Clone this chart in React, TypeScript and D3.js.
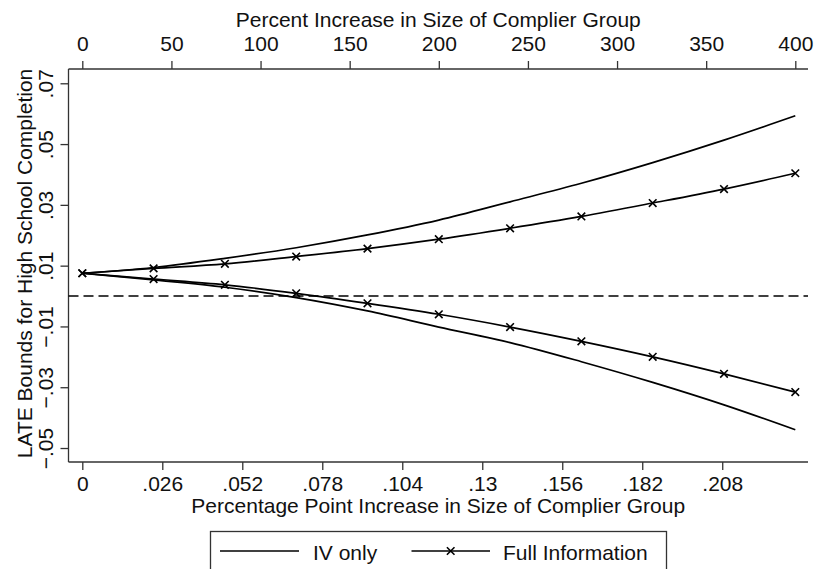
import React, { useEffect, useRef } from 'react';
import * as d3 from 'd3';

// percent increase in size of complier group (top axis)
const pctIncrease = [0, 40, 80, 120, 160, 200, 240, 280, 320, 360, 400];
// LATE bounds, IV only
const ivUpper = [0.0075, 0.0094, 0.0124, 0.0159, 0.0201, 0.025, 0.031, 0.0371, 0.0439, 0.0513, 0.0593];
const ivLower = [0.0075, 0.0053, 0.0029, -0.0005, -0.0049, -0.0102, -0.0153, -0.0216, -0.0284, -0.0358, -0.044];
// LATE bounds, full information
const fullUpper = [0.0075, 0.0091, 0.0106, 0.013, 0.0156, 0.0187, 0.0223, 0.0262, 0.0306, 0.0352, 0.0404];
const fullLower = [0.0075, 0.0056, 0.0037, 0.0009, -0.0024, -0.006, -0.0102, -0.0149, -0.02, -0.0256, -0.0316];

const topTicks = [0, 50, 100, 150, 200, 250, 300, 350, 400];
const bottomTicks = [0, 0.026, 0.052, 0.078, 0.104, 0.13, 0.156, 0.182, 0.208];
const bottomLabels = ['0', '.026', '.052', '.078', '.104', '.13', '.156', '.182', '.208'];
const leftTicks = [0.07, 0.05, 0.03, 0.01, -0.01, -0.03, -0.05];
const leftLabels = ['.07', '.05', '.03', '.01', '\u2212.01', '\u2212.03', '\u2212.05'];

const FONT = 'Liberation Sans, Arial, Helvetica, sans-serif';

const App = () => {
  const svgRef = useRef<SVGSVGElement>(null);

  useEffect(() => {
    const svg = d3.select(svgRef.current);
    svg.selectAll('*').remove();

    const left = 68.5, right = 808, top = 69, bottom = 462;
    const midX = (left + right) / 2;

    const xPct = d3.scaleLinear().domain([0, 400]).range([82.3, 795.3]);
    const xPp = d3.scaleLinear().domain([0, 0.23175]).range([82.3, 795.3]);
    const y = d3.scaleLinear().domain([-0.0546, 0.0747]).range([bottom, top]);

    const g = svg.append('g').style('font-family', FONT);

    // frame lines
    g.append('line').attr('x1', left).attr('x2', right).attr('y1', top).attr('y2', top);
    g.append('line').attr('x1', left).attr('x2', right).attr('y1', bottom).attr('y2', bottom);
    g.append('line').attr('x1', left).attr('x2', left).attr('y1', top).attr('y2', bottom);
    g.selectAll('line').attr('stroke', '#333').attr('stroke-width', 1.3);

    const styleAxis = (sel: any) => {
      sel.select('.domain').remove();
      sel.selectAll('.tick line').attr('stroke', '#333').attr('stroke-width', 1.3);
      sel.selectAll('.tick text').attr('fill', '#111').style('font-size', '21px').style('font-family', FONT);
    };

    g.append('g')
      .attr('transform', `translate(0,${top})`)
      .call(d3.axisTop(xPct).tickValues(topTicks).tickSize(8).tickPadding(10).tickFormat((d: any) => String(d)))
      .call(styleAxis);

    g.append('g')
      .attr('transform', `translate(0,${bottom})`)
      .call(d3.axisBottom(xPp).tickValues(bottomTicks).tickSize(8).tickPadding(6)
        .tickFormat((_d: any, i: number) => bottomLabels[i]))
      .call(styleAxis);

    const yAxis = g.append('g')
      .attr('transform', `translate(${left},0)`)
      .call(d3.axisLeft(y).tickValues(leftTicks).tickSize(8)
        .tickFormat((_d: any, i: number) => leftLabels[i]))
      .call(styleAxis);
    yAxis.selectAll('.tick text')
      .attr('x', 0).attr('dy', 0)
      .attr('text-anchor', 'middle')
      .attr('transform', 'translate(-16,0) rotate(-90)');

    // titles
    g.append('text').attr('x', midX).attr('y', 26.5).attr('text-anchor', 'middle')
      .style('font-size', '21px').attr('fill', '#111').text('Percent Increase in Size of Complier Group');
    g.append('text').attr('x', midX).attr('y', 513).attr('text-anchor', 'middle')
      .style('font-size', '21px').attr('fill', '#111').text('Percentage Point Increase in Size of Complier Group');
    g.append('text').attr('transform', `translate(32,${(top + bottom) / 2 - 2}) rotate(-90)`).attr('text-anchor', 'middle')
      .style('font-size', '21px').attr('fill', '#111').text('LATE Bounds for High School Completion');

    // zero reference line
    g.append('line').attr('x1', left).attr('x2', right).attr('y1', y(0)).attr('y2', y(0))
      .attr('stroke', '#000').attr('stroke-width', 1.6).attr('stroke-dasharray', '10,5');

    const line = d3.line<number>().x((_d, i) => xPct(pctIncrease[i])).y((d) => y(d)).curve(d3.curveMonotoneX);
    const plot = g.append('g');
    [ivUpper, ivLower, fullUpper, fullLower].forEach((s) => {
      plot.append('path').datum(s).attr('d', line).attr('fill', 'none')
        .attr('stroke', '#000').attr('stroke-width', 1.7);
    });

    const cross = (sel: any, cx: number, cy: number) => {
      const r = 3.8;
      sel.append('path')
        .attr('d', `M${cx - r},${cy - r}L${cx + r},${cy + r}M${cx - r},${cy + r}L${cx + r},${cy - r}`)
        .attr('stroke', '#000').attr('stroke-width', 1.6).attr('fill', 'none');
    };
    [fullUpper, fullLower].forEach((s) => {
      s.forEach((v, i) => cross(plot, xPct(pctIncrease[i]), y(v)));
    });

    // legend
    const lg = g.append('g');
    lg.append('rect').attr('x', 210.5).attr('y', 531.5).attr('width', 456).attr('height', 60)
      .attr('fill', '#fff').attr('stroke', '#333').attr('stroke-width', 1.3);
    lg.append('line').attr('x1', 220).attr('x2', 299).attr('y1', 551).attr('y2', 551)
      .attr('stroke', '#000').attr('stroke-width', 1.7);
    lg.append('text').attr('x', 313).attr('y', 559.5).style('font-size', '21px').attr('fill', '#111').text('IV only');
    lg.append('line').attr('x1', 411.5).attr('x2', 490).attr('y1', 551).attr('y2', 551)
      .attr('stroke', '#000').attr('stroke-width', 1.7);
    cross(lg, 450.7, 551);
    lg.append('text').attr('x', 503).attr('y', 559.5).style('font-size', '21px').attr('fill', '#111').text('Full Information');
  }, []);

  return (
    <svg ref={svgRef} width={817} height={569}
      style={{ position: 'absolute', left: 0, top: 0, background: '#fff' }} />
  );
};

export default App;
